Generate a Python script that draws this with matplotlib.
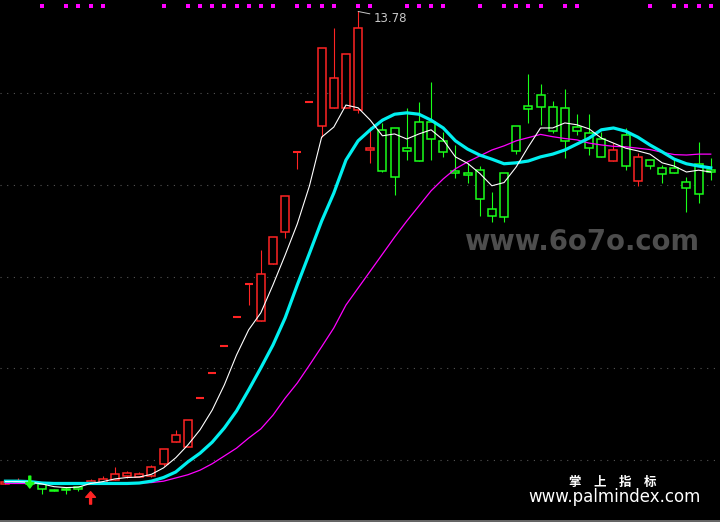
import matplotlib
matplotlib.use("Agg")
import matplotlib.pyplot as plt
from matplotlib.patches import Rectangle

# daily candles (price units)
opens = [3.48, 3.52, 3.52, 3.48, 3.35, 3.38, 3.42, 3.49, 3.51, 3.57,
         3.66, 3.63, 3.65, 3.92, 4.40, 4.29, 5.35, 5.89, 6.48, 7.13,
         7.83, 7.04, 8.27, 8.98, 10.72, 11.80, 11.29, 11.67, 11.67, 11.63,
         10.75, 11.20, 11.25, 10.80, 11.36, 11.36, 10.96, 10.30, 10.25, 10.32,
         9.47, 10.25, 11.28, 11.72, 11.96, 11.69, 11.67, 11.26, 11.12, 11.00,
         10.51, 11.09, 10.09, 10.54, 10.36, 10.36, 10.07, 10.46, 10.32]
highs = [3.52, 3.60, 3.54, 3.48, 3.36, 3.41, 3.42, 3.59, 3.66, 3.85,
         3.76, 3.74, 3.89, 4.24, 4.66, 4.87, 5.35, 5.89, 6.48, 7.13,
         7.83, 8.58, 8.86, 9.76, 10.72, 11.80, 12.98, 13.43, 12.85, 13.78,
         11.27, 11.34, 11.25, 11.67, 11.81, 12.25, 11.16, 10.87, 10.47, 10.41,
         9.84, 10.25, 11.28, 12.42, 12.20, 11.83, 12.09, 11.54, 11.54, 11.16,
         10.91, 11.23, 10.69, 10.54, 10.43, 10.59, 10.17, 10.93, 10.58]
lows = [3.48, 3.52, 3.46, 3.26, 3.32, 3.26, 3.33, 3.49, 3.51, 3.57,
        3.62, 3.63, 3.63, 3.88, 4.40, 4.29, 5.35, 5.89, 6.48, 7.13,
        7.38, 7.04, 8.27, 8.85, 10.34, 11.80, 11.05, 11.67, 11.67, 11.56,
        10.47, 10.27, 9.78, 10.54, 10.53, 10.54, 10.60, 10.14, 10.05, 9.33,
        9.18, 9.20, 10.67, 11.34, 11.31, 11.12, 10.58, 11.09, 10.65, 10.60,
        10.51, 10.32, 9.98, 10.34, 10.03, 10.25, 9.40, 9.61, 10.11]
closes = [3.52, 3.54, 3.48, 3.36, 3.33, 3.34, 3.36, 3.54, 3.59, 3.70,
          3.71, 3.70, 3.84, 4.24, 4.55, 4.87, 5.35, 5.89, 6.48, 7.13,
          7.83, 8.05, 8.86, 9.76, 10.72, 11.80, 12.98, 12.32, 12.85, 13.41,
          10.81, 10.30, 10.18, 10.74, 10.53, 10.99, 10.71, 10.25, 10.21, 9.69,
          9.32, 9.31, 10.74, 11.65, 11.69, 11.17, 10.96, 11.17, 10.80, 10.60,
          10.76, 10.41, 10.60, 10.41, 10.23, 10.25, 9.93, 9.79, 10.27]

# moving average lines
ma5 = [3.53, 3.53, 3.52, 3.48, 3.42, 3.40, 3.41, 3.49, 3.53, 3.59,
       3.62, 3.63, 3.69, 3.83, 4.05, 4.33, 4.66, 5.09, 5.64, 6.29,
       6.84, 7.21, 7.82, 8.47, 9.15, 9.98, 11.04, 11.26, 11.74, 11.68,
       11.41, 11.07, 11.11, 11.00, 11.11, 11.20, 10.98, 10.61, 10.47, 10.25,
       9.98, 10.05, 10.39, 10.83, 11.24, 11.24, 11.35, 11.31, 11.22, 11.02,
       10.91, 10.80, 10.74, 10.67, 10.48, 10.41, 10.28, 10.32, 10.28]
ma10 = [3.54, 3.54, 3.53, 3.50, 3.49, 3.49, 3.49, 3.49, 3.49, 3.49,
        3.49, 3.50, 3.54, 3.62, 3.74, 3.96, 4.15, 4.39, 4.70, 5.07,
        5.53, 6.01, 6.51, 7.10, 7.82, 8.51, 9.21, 9.82, 10.54, 10.96,
        11.20, 11.41, 11.54, 11.57, 11.54, 11.41, 11.24, 10.96, 10.78, 10.65,
        10.56, 10.46, 10.48, 10.52, 10.61, 10.67, 10.76, 10.89, 11.02, 11.20,
        11.24, 11.17, 11.04, 10.87, 10.72, 10.56, 10.46, 10.41, 10.37]
ma30 = [3.49, 3.49, 3.49, 3.49, 3.49, 3.49, 3.49, 3.49, 3.49, 3.49,
        3.49, 3.50, 3.51, 3.54, 3.61, 3.68, 3.78, 3.92, 4.09, 4.26,
        4.48, 4.68, 4.98, 5.35, 5.68, 6.07, 6.47, 6.88, 7.38, 7.75,
        8.12, 8.49, 8.86, 9.21, 9.54, 9.87, 10.13, 10.35, 10.50, 10.63,
        10.76, 10.85, 10.96, 11.03, 11.10, 11.05, 11.01, 10.98, 10.91, 10.87,
        10.84, 10.83, 10.80, 10.77, 10.71, 10.66, 10.65, 10.67, 10.67]

# signal markers
dot_idx = [3, 5, 6, 7, 8, 13, 15, 16, 17, 18, 19, 20, 21, 22, 24, 25, 26, 27,
           29, 30, 33, 34, 35, 36, 39, 41, 42, 43, 44, 46, 47, 53, 55, 56, 57, 58]
buy_idx = [7]
sell_idx = [2]
peak_idx = 29
grid_levels = [4, 6, 8, 10, 12]

RED = '#ff2424'
GREEN = '#19ff19'

fig = plt.figure(figsize=(7.2, 5.22), dpi=100, facecolor='black')
ax = fig.add_axes([0, 0, 1, 1])
ax.set_facecolor('black')
ax.set_xlim(-0.45, 58.76)
ax.set_ylim(2.65, 14.03)
ax.axis('off')

for lv in grid_levels:
    ax.axhline(lv, color='#555555', lw=0.8, ls=(0, (1, 5)), zorder=1)
ax.axhline(2.68, color='#7a7a7a', lw=1.2, zorder=1)

w = 0.66
for i in range(len(opens)):
    o, h, l, c = opens[i], highs[i], lows[i], closes[i]
    col = RED if c >= o else GREEN
    ax.vlines(i, l, h, color=col, lw=0.8, zorder=2)
    if o == c:
        ax.hlines(o, i - w / 2, i + w / 2, color=col, lw=1.5, zorder=3)
    else:
        ax.add_patch(Rectangle((i - w / 2, min(o, c)), w, abs(c - o),
                               facecolor='black', edgecolor=col, lw=1.1, zorder=3))

x = list(range(len(opens)))
ax.plot(x, ma30, color='#ff00ff', lw=0.9, zorder=4)
ax.plot(x, ma10, color='#00f0f0', lw=2.3, zorder=5)
ax.plot(x, ma5, color='white', lw=0.8, zorder=6)

ax.plot(dot_idx, [13.90] * len(dot_idx), 's', color='#ff00ff', ms=2.3,
        mew=0, zorder=6)

for i in buy_idx:
    ax.annotate('', xy=(i, lows[i] - 0.18), xytext=(i, lows[i] - 0.45),
                arrowprops=dict(facecolor=RED, edgecolor=RED, width=1.4,
                                headwidth=7, headlength=4, shrink=0), zorder=7)
for i in sell_idx:
    ax.annotate('', xy=(i, highs[i] - 0.15), xytext=(i, highs[i] + 0.11),
                arrowprops=dict(facecolor=GREEN, edgecolor=GREEN, width=1.4,
                                headwidth=6, headlength=4, shrink=0), zorder=7)

ax.annotate(f'{highs[peak_idx]:.2f}', xy=(peak_idx, highs[peak_idx]),
            xytext=(374 / 720, 1 - 18 / 522), textcoords='figure fraction',
            color='#c8c8c8', fontsize=8.5, va='center', ha='left',
            arrowprops=dict(arrowstyle='-', color='#c8c8c8', lw=0.7,
                            shrinkA=1, shrinkB=0))

fig.text(581.5 / 720, 1 - 250 / 522, 'www.6o7o.com', color='#4d4d4d',
         fontsize=19.8, fontweight='bold', ha='center', va='baseline')
fig.text(613 / 720, 1 - 482.5 / 522, '掌　上　指　标', color='white', fontsize=9,
         fontweight='bold', ha='center', va='center',
         family=['Noto Sans CJK SC', 'DejaVu Sans'])
fig.text(614.5 / 720, 1 - 497 / 522, 'www.palmindex.com', color='white',
         fontsize=12, ha='center', va='center')

fig.savefig('out.png', dpi=100, facecolor='black')
